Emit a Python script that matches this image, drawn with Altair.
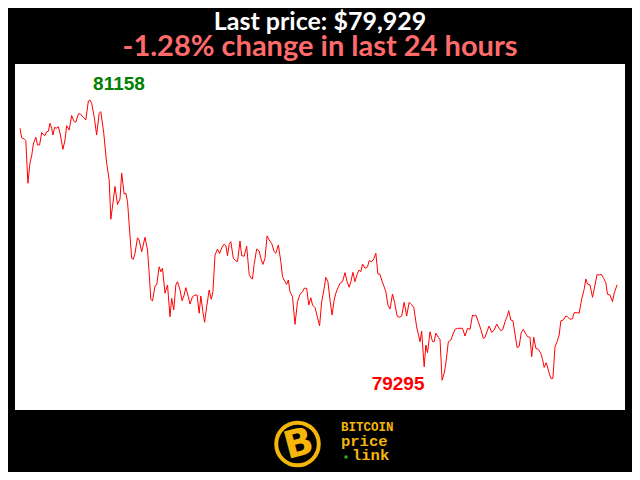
import altair as alt
import pandas as pd

# minutes since start of the 24h window
minutes = [0, 4, 10, 14, 19, 24, 28, 32, 38, 42, 47, 52, 57, 60, 64, 68, 72, 76, 79, 83,
           87, 92, 97, 103, 108, 112, 118, 124, 130, 134, 140, 145, 152, 158, 164, 168, 172, 178, 184, 190,
           194, 201, 208, 214, 218, 224, 228, 234, 240, 244, 250, 254, 258, 263, 268, 272, 276, 282, 286, 292,
           300, 306, 310, 314, 318, 324, 328, 334, 338, 342, 348, 354, 360, 364, 369, 374, 378, 384, 389, 394,
           398, 404, 408, 414, 420, 425, 430, 434, 439, 443, 448, 454, 459, 463, 468, 474, 479, 484, 490, 494,
           498, 502, 506, 512, 518, 522, 528, 532, 538, 544, 550, 554, 558, 562, 568, 574, 578, 583, 588, 593,
           598, 604, 610, 614, 620, 626, 630, 636, 640, 644, 648, 654, 660, 666, 672, 678, 682, 688, 693, 698,
           702, 708, 714, 719, 724, 730, 734, 739, 744, 749, 754, 758, 764, 769, 774, 780, 785, 790, 794, 799,
           804, 809, 814, 818, 822, 828, 834, 838, 844, 849, 854, 859, 864, 868, 874, 878, 883, 888, 894, 899,
           905, 910, 916, 922, 928, 934, 939, 945, 952, 960, 964, 970, 974, 978, 984, 990, 994, 998, 1004, 1008,
           1013, 1018, 1022, 1028, 1034, 1040, 1044, 1050, 1056, 1062, 1068, 1074, 1080, 1086, 1090, 1094, 1100, 1106, 1112, 1116,
           1122, 1126, 1132, 1138, 1144, 1150, 1154, 1159, 1164, 1169, 1173, 1178, 1183, 1188, 1193, 1198, 1203, 1208, 1214, 1218,
           1224, 1228, 1233, 1238, 1244, 1250, 1254, 1258, 1263, 1269, 1274, 1279, 1284, 1289, 1294, 1298, 1304, 1310, 1314, 1320,
           1326, 1330, 1337, 1342, 1348, 1354, 1358, 1362, 1368, 1374, 1380, 1385, 1390, 1395, 1401, 1406, 1410, 1416, 1422, 1426,
           1433]

prices = [80970, 80907, 80899, 80887, 80604, 80741, 80786, 80865, 80910, 80859, 80859, 80941, 80925, 80921, 80947, 80950, 81003, 80970, 80925, 80976,
          80970, 80980, 80925, 80830, 80892, 80987, 80958, 81054, 81014, 81010, 81065, 81065, 81043, 81025, 81151, 81158, 81136, 81047, 80925, 81070,
          81080, 80937, 80737, 80626, 80365, 80493, 80583, 80463, 80500, 80671, 80533, 80538, 80483, 80294, 80105, 80099, 80139, 80242, 80227, 80149,
          80245, 80161, 80006, 79833, 79821, 79921, 79928, 80049, 80016, 80039, 79873, 79928, 79717, 79839, 79762, 79928, 79950, 79895, 79823, 79861,
          79910, 79850, 79801, 79850, 79861, 79861, 79740, 79855, 79750, 79680, 79783, 79895, 79833, 79883, 80127, 80167, 80137, 80174, 80200, 80189,
          80123, 80198, 80216, 80105, 80089, 80083, 80220, 80123, 80119, 80185, 79999, 79976, 79968, 80065, 80167, 80154, 80105, 80065, 80105, 80254,
          80227, 80205, 80149, 80139, 80194, 80083, 79983, 79950, 79932, 79961, 79883, 79850, 79666, 79817, 79866, 79883, 79906, 79906, 79795, 79843,
          79795, 79778, 79712, 79657, 79815, 79906, 79979, 79950, 79828, 79728, 79828, 79873, 79916, 79943, 79950, 80010, 79950, 79913, 79950, 80012,
          79950, 79999, 80028, 80016, 80067, 80039, 80049, 80089, 80083, 80101, 80139, 80001, 79999, 79961, 79916, 79883, 79795, 79768, 79868, 79813,
          79722, 79713, 79722, 79813, 79722, 79813, 79799, 79780, 79648, 79551, 79622, 79384, 79529, 79478, 79617, 79551, 79551, 79607, 79580, 79567,
          79295, 79341, 79407, 79551, 79562, 79607, 79633, 79640, 79640, 79640, 79589, 79640, 79633, 79728, 79722, 79728, 79684, 79633, 79573, 79580,
          79628, 79655, 79613, 79628, 79668, 79640, 79624, 79633, 79684, 79717, 79757, 79695, 79690, 79602, 79512, 79520, 79612, 79633, 79602, 79584,
          79580, 79451, 79580, 79507, 79500, 79474, 79434, 79380, 79411, 79351, 79307, 79307, 79517, 79551, 79595, 79690, 79695, 79722, 79717, 79700,
          79704, 79744, 79744, 79740, 79833, 79899, 79968, 79934, 79928, 79846, 79928, 79999, 79994, 79999, 79972, 79943, 79866, 79861, 79817, 79873,
          79929]

change_pct = -1.28
logo_lines = ["BITCOIN", "price", "link"]

df = pd.DataFrame({"minute": minutes, "price": prices})
df_max = df.loc[[df["price"].idxmax()]].assign(label=lambda d: d["price"].astype(str))
df_min = df.loc[[df["price"].idxmin()]].assign(label=lambda d: d["price"].astype(str))

title_text = f"Last price: ${prices[-1]:,}"
sub_text = f"{change_pct:.2f}% change in last 24 hours"

xs = alt.Scale(domain=[-12, 1452], nice=False, zero=False)
ys = alt.Scale(domain=[79097, 81397], nice=False, zero=False)
X = alt.X("minute:Q", scale=xs, axis=None)
Y = alt.Y("price:Q", scale=ys, axis=None)

line = alt.Chart(df).mark_line(color="#ff0000", strokeWidth=1, clip=True).encode(x=X, y=Y)

lab_font = "Liberation Sans"
max_lab = alt.Chart(df_max).mark_text(font=lab_font, fontSize=19, fontWeight="bold", color="#008000",
                                       align="center", baseline="alphabetic", dx=29, dy=-10).encode(x=X, y=Y, text="label:N")
min_lab = alt.Chart(df_min).mark_text(font=lab_font, fontSize=19, fontWeight="bold", color="#ff0000",
                                       align="center", baseline="alphabetic", dx=-44, dy=10).encode(x=X, y=Y, text="label:N")

tfont = "Lato"
one = pd.DataFrame({"t": [title_text], "s": [sub_text]})
title = alt.Chart(one).mark_text(font=tfont, fontSize=25, fontWeight="bold", color="#ffffff",
                                 align="center", baseline="alphabetic").encode(
    x=alt.value(305), y=alt.value(-34), text="t:N")
subtitle = alt.Chart(one).mark_text(font=tfont, fontSize=29, fontWeight="bold", color="#ff6b6b",
                                    align="center", baseline="alphabetic").encode(
    x=alt.value(305), y=alt.value(-8), text="s:N")

gold = "#f5b50a"
logo_df = pd.DataFrame({"b": ["B"], "l1": [logo_lines[0]], "l2": [logo_lines[1]], "l3": [logo_lines[2]]})
ring = alt.Chart(logo_df).mark_point(shape="circle", filled=False, stroke=gold, strokeWidth=4, size=1810, opacity=1).encode(
    x=alt.value(282.5), y=alt.value(380))
bglyph = alt.Chart(logo_df).mark_text(font="DejaVu Sans", fontSize=38, fontWeight="bold", color=gold,
                                      align="center", baseline="middle", angle=345).encode(
    x=alt.value(284), y=alt.value(381), text="b:N")
mono = "Liberation Mono"
t1 = alt.Chart(logo_df).mark_text(font=mono, fontSize=12.5, fontWeight="bold", color=gold, align="left",
                                  baseline="alphabetic").encode(x=alt.value(326), y=alt.value(367), text="l1:N")
t2 = alt.Chart(logo_df).mark_text(font=mono, fontSize=15.5, fontWeight="bold", color=gold, align="left",
                                  baseline="alphabetic").encode(x=alt.value(326), y=alt.value(381.5), text="l2:N")
t3 = alt.Chart(logo_df).mark_text(font=mono, fontSize=15.5, fontWeight="bold", color=gold, align="left",
                                  baseline="alphabetic").encode(x=alt.value(337), y=alt.value(396), text="l3:N")
dot = alt.Chart(logo_df).mark_square(color="#2db52d", size=9, opacity=1).encode(x=alt.value(331), y=alt.value(393))

chart = alt.layer(line, max_lab, min_lab, title, subtitle, ring, bglyph, t1, t2, t3, dot).properties(
    width=610, height=346,
    autosize=alt.AutoSizeParams(type="none"),
    padding={"left": 7, "top": 56, "right": 7, "bottom": 62},
    background="#000000",
).configure_view(fill="#ffffff", strokeWidth=0)

chart.save("out.html", embed_options={"renderer": "svg", "actions": False})
